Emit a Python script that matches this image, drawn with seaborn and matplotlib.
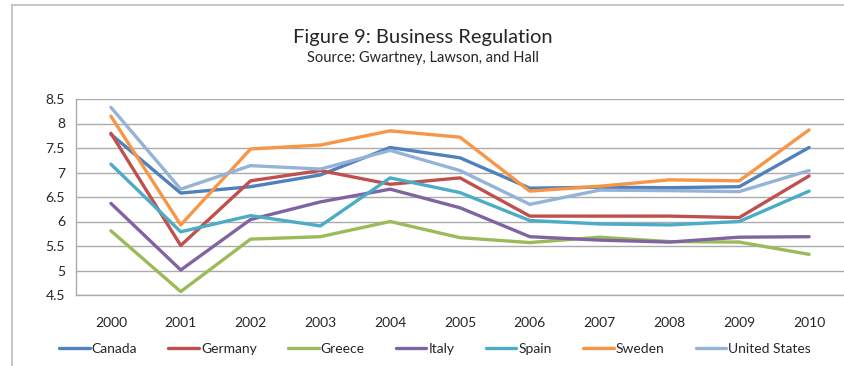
import matplotlib
matplotlib.use("Agg")
import matplotlib.pyplot as plt
from matplotlib.lines import Line2D
import seaborn as sns
import pandas as pd

years = ["2000", "2001", "2002", "2003", "2004", "2005",
         "2006", "2007", "2008", "2009", "2010"]

canada = [7.78, 6.58, 6.71, 6.95, 7.51, 7.30, 6.68, 6.70, 6.69, 6.71, 7.51]
germany = [7.80, 5.51, 6.83, 7.04, 6.76, 6.89, 6.11, 6.11, 6.11, 6.08, 6.93]
greece = [5.81, 4.57, 5.64, 5.69, 6.00, 5.67, 5.57, 5.68, 5.59, 5.58, 5.33]
italy = [6.37, 5.01, 6.04, 6.40, 6.66, 6.28, 5.69, 5.62, 5.58, 5.68, 5.69]
spain = [7.17, 5.79, 6.12, 5.91, 6.89, 6.59, 6.02, 5.95, 5.93, 6.00, 6.62]
sweden = [8.15, 5.93, 7.48, 7.56, 7.85, 7.72, 6.62, 6.72, 6.85, 6.83, 7.87]
united_states = [8.33, 6.66, 7.14, 7.07, 7.45, 7.04, 6.35, 6.64, 6.63, 6.61, 7.04]

countries = ["Canada", "Germany", "Greece", "Italy", "Spain", "Sweden", "United States"]
series = [canada, germany, greece, italy, spain, sweden, united_states]
colors = ["#4F81BD", "#C0504D", "#9BBB59", "#8064A2", "#4BACC6", "#F79646", "#95B3D7"]

rows = []
for name, vals in zip(countries, series):
    for i, v in enumerate(vals):
        rows.append({"pos": i, "year": years[i], "country": name, "score": v})
df = pd.DataFrame(rows)

sns.set_style("white")
plt.rcParams["font.family"] = ["Lato", "DejaVu Sans"]

fig = plt.figure(figsize=(8.45, 3.66), dpi=100)
ax = fig.add_axes([76 / 845, 1 - 295 / 366, 768 / 845, 196 / 366])

line_w = 2.4
sns.lineplot(data=df, x="pos", y="score", hue="country", hue_order=countries,
             palette=colors, linewidth=line_w, ax=ax, legend=False, sort=False)

grid_c = "#ABABAB"
ax.set_ylim(4.5, 8.5)
ax.set_xlim(-0.5, len(years) - 0.5)
yt = [4.5, 5, 5.5, 6, 6.5, 7, 7.5, 8, 8.5]
ax.set_yticks(yt)
ax.set_yticklabels([f"{v:g}" for v in yt], fontsize=10)
ax.yaxis.grid(True, color=grid_c, linewidth=1.0)
ax.set_axisbelow(True)

# category boundaries carry tick marks, centers carry labels
ax.set_xticks([i - 0.5 for i in range(len(years) + 1)])
ax.set_xticklabels([])
ax.set_xticks(range(len(years)), minor=True)
ax.set_xticklabels(years, minor=True, fontsize=10)
ax.tick_params(axis="x", which="major", direction="out", length=4, color=grid_c, width=1)
ax.tick_params(axis="x", which="minor", length=0, pad=16)
ax.tick_params(axis="y", direction="out", length=4, color=grid_c, width=1, pad=4)
ax.set_xlabel("")
ax.set_ylabel("")

for s in ["top", "right"]:
    ax.spines[s].set_visible(False)
for s in ["left", "bottom"]:
    ax.spines[s].set_color(grid_c)
    ax.spines[s].set_linewidth(1.0)

fig.text(0.5, 1 - 37 / 366, "Figure 9: Business Regulation", ha="center", va="center", fontsize=14.5)
fig.text(0.5, 1 - 58 / 366, "Source: Gwartney, Lawson, and Hall", ha="center", va="center", fontsize=10.5)

handles = [Line2D([0], [0], color=c, linewidth=line_w) for c in colors]
fig.legend(handles, countries, loc="center", bbox_to_anchor=(435 / 845, 1 - 349 / 366),
           ncol=7, frameon=False, fontsize=10, handlelength=2.2, handletextpad=0.15,
           columnspacing=2.25)

# outer chart frame
frame_c = "#BDBDBD"
fig.add_artist(Line2D([12 / 845, 1], [1 - 5 / 366, 1 - 5 / 366], color=frame_c, linewidth=1.2,
                      transform=fig.transFigure))
fig.add_artist(Line2D([12 / 845, 12 / 845], [0, 1 - 5 / 366], color=frame_c, linewidth=1.2,
                      transform=fig.transFigure))

fig.savefig("out.png", dpi=100)
